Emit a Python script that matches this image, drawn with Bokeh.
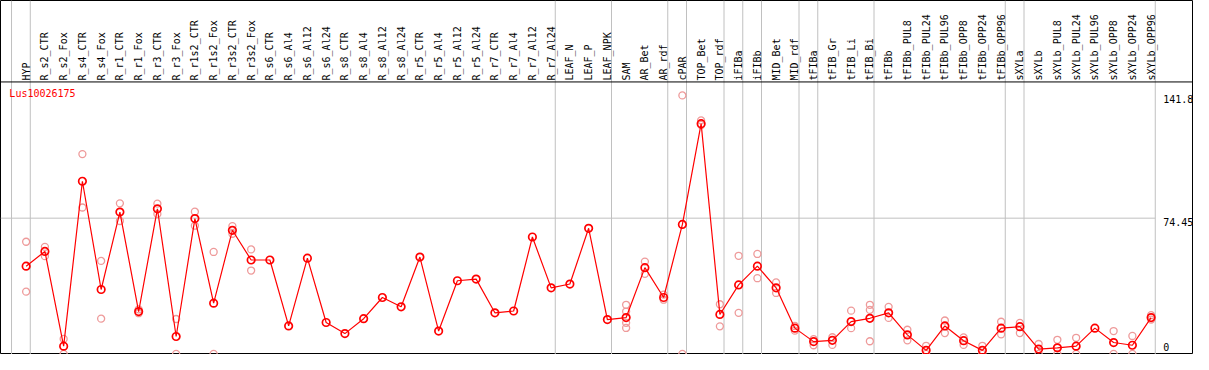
from math import pi
from bokeh.plotting import figure
from bokeh.models import Range1d, Span
from bokeh.core.properties import value
from bokeh.embed import file_html
from bokeh.resources import INLINE

# ---------------- data ----------------
title = "Lus10026175"

categories = [
    "HYP", "R_s2_CTR", "R_s2_Fox", "R_s4_CTR", "R_s4_Fox", "R_r1_CTR", "R_r1_Fox",
    "R_r3_CTR", "R_r3_Fox", "R_r1s2_CTR", "R_r1s2_Fox", "R_r3s2_CTR", "R_r3s2_Fox",
    "R_s6_CTR", "R_s6_Al4", "R_s6_Al12", "R_s6_Al24", "R_s8_CTR", "R_s8_Al4",
    "R_s8_Al12", "R_s8_Al24", "R_r5_CTR", "R_r5_Al4", "R_r5_Al12", "R_r5_Al24",
    "R_r7_CTR", "R_r7_Al4", "R_r7_Al12", "R_r7_Al24", "LEAF_N", "LEAF_P", "LEAF_NPK",
    "SAM", "AR_Bet", "AR_rdf", "cPAR", "TOP_Bet", "TOP_rdf", "iFIBa", "iFIBb",
    "MID_Bet", "MID_rdf", "tFIBa", "tFIB_Gr", "tFIB_Li", "tFIB_Bi", "tFIBb",
    "tFIBb_PUL8", "tFIBb_PUL24", "tFIBb_PUL96", "tFIBb_OPP8", "tFIBb_OPP24",
    "tFIBb_OPP96", "sXYLa", "sXYLb", "sXYLb_PUL8", "sXYLb_PUL24", "sXYLb_PUL96",
    "sXYLb_OPP8", "sXYLb_OPP24", "sXYLb_OPP96",
]

means = [
    48.1, 56.2, 4.2, 94.7, 35.3, 77.8, 23.2, 79.6, 9.5, 74.2, 27.8, 67.8, 51.5,
    51.5, 15.3, 52.5, 17.2, 11.1, 19.3, 30.9, 25.8, 53.1, 12.5, 40.1, 41.0,
    22.5, 23.5, 64.1, 36.2, 38.3, 68.9, 18.8,
    19.9, 47.3, 30.9, 71.0, 126.3, 21.6, 37.8, 48.1, 36.2, 14.1,
    6.7, 7.4, 17.7, 19.5, 22.5, 10.4, 1.9, 15.3, 7.2, 1.9, 14.1,
    14.9, 2.6, 3.3, 4.2, 14.1, 6.2, 4.7, 19.9,
]

rep_cats = [
    "HYP", "HYP", "R_s2_CTR", "R_s2_CTR", "R_s2_Fox", "R_s2_Fox",
    "R_s4_CTR", "R_s4_CTR", "R_s4_Fox", "R_s4_Fox", "R_r1_CTR", "R_r1_CTR",
    "R_r1_Fox", "R_r1_Fox", "R_r3_CTR", "R_r3_CTR", "R_r3_Fox", "R_r3_Fox",
    "R_r1s2_CTR", "R_r1s2_CTR", "R_r1s2_Fox", "R_r1s2_Fox",
    "R_r3s2_CTR", "R_r3s2_CTR", "R_r3s2_Fox", "R_r3s2_Fox",
    "SAM", "SAM", "SAM", "SAM", "AR_Bet", "AR_Bet", "AR_rdf", "AR_rdf",
    "cPAR", "cPAR", "TOP_Bet", "TOP_Bet", "TOP_rdf", "TOP_rdf",
    "iFIBa", "iFIBa", "iFIBb", "iFIBb", "MID_Bet", "MID_Bet", "MID_rdf", "MID_rdf",
    "tFIBa", "tFIBa", "tFIB_Gr", "tFIB_Gr", "tFIB_Li", "tFIB_Li",
    "tFIB_Bi", "tFIB_Bi", "tFIB_Bi", "tFIBb", "tFIBb",
    "tFIBb_PUL8", "tFIBb_PUL8", "tFIBb_PUL24", "tFIBb_PUL24",
    "tFIBb_PUL96", "tFIBb_PUL96", "tFIBb_OPP8", "tFIBb_OPP8",
    "tFIBb_OPP24", "tFIBb_OPP24", "tFIBb_OPP96", "tFIBb_OPP96",
    "sXYLa", "sXYLa", "sXYLb", "sXYLb", "sXYLb_PUL8", "sXYLb_PUL8",
    "sXYLb_PUL24", "sXYLb_PUL24", "sXYLb_OPP8", "sXYLb_OPP8",
    "sXYLb_OPP24", "sXYLb_OPP24", "sXYLb_OPP96", "sXYLb_OPP96",
]
rep_vals = [
    61.5, 34.1, 58.7, 53.6, 8.2, 0.0,
    109.6, 80.3, 51.0, 19.3, 82.6, 72.9,
    24.4, 22.3, 82.4, 76.8, 19.1, 0.0,
    78.0, 70.3, 55.9, 0.0,
    70.1, 65.9, 57.3, 45.7,
    26.9, 23.2, 17.0, 14.2, 50.6, 43.9, 32.5, 29.7,
    141.8, 0.0, 128.1, 125.6, 27.2, 15.1,
    53.8, 22.5, 54.8, 41.5, 39.2, 33.4, 15.3, 12.7,
    8.1, 4.7, 9.1, 4.9, 23.7, 14.1,
    26.9, 24.1, 6.9, 25.8, 19.7,
    13.2, 7.4, 4.4, 0.0,
    18.3, 11.4, 9.0, 4.9,
    4.4, 0.0, 17.6, 10.7,
    17.0, 11.4, 5.4, 0.0, 7.7, 0.0,
    8.8, 0.0, 12.5, 0.0,
    9.8, 0.0, 21.2, 18.8,
]

# last category index of each group (-1 = start)
group_ends = [-1, 0, 28, 31, 34, 35, 37, 38, 39, 41, 42, 45, 52, 53, 60]

y_ticks = [0, 74.45, 141.8]
y_tick_labels = ["0", "74.45", "141.8"]

# ---------------- layout ----------------
W, H = 1193, 354
x_range = Range1d(-1.368, 62.26)
y_range = Range1d(-0.37, 193.9)
header_y = 149.2      # header / plot separator
label_y = 150.0       # bottom of rotated labels
title_y = 146.1
sep_off = 0.22

FONT = value("DejaVu Sans Mono")
FS = value("10px")

p = figure(width=W, height=H, x_range=x_range, y_range=y_range,
           output_backend="svg", toolbar_location=None,
           x_axis_location=None, y_axis_location=None,
           min_border=0, min_border_left=0, min_border_right=0,
           min_border_top=0, min_border_bottom=0)
p.grid.visible = False
p.outline_line_color = "black"
p.outline_line_width = 1
p.background_fill_color = "white"
p.border_fill_color = "white"

xs = list(range(len(categories)))
idx = {c: i for i, c in enumerate(categories)}

# vertical group separators
seps = [g + sep_off for g in group_ends]
for s in seps:
    p.add_layout(Span(location=s, dimension="height", line_color="#C0C0C0",
                      line_width=1, level="underlay"))

# horizontal reference line at middle tick
p.segment(x0=[x_range.start], y0=[y_ticks[1]], x1=[seps[-1]], y1=[y_ticks[1]],
          line_color="#C0C0C0", line_width=1, level="underlay")

# header separator
p.add_layout(Span(location=header_y, dimension="width", line_color="black",
                  line_width=1))

# header labels
p.text(x=xs, y=[label_y] * len(xs), text=categories, angle=pi / 2,
       text_align="left", text_baseline="middle", text_font=FONT,
       text_font_size=FS, text_color="black")

# title
p.text(x=[-0.895], y=[title_y], text=[title], text_align="left",
       text_baseline="top", text_font=FONT, text_font_size=FS, text_color="red")

# right tick labels
for t, lab in zip(y_ticks, y_tick_labels):
    is_min = t == min(y_ticks)
    p.text(x=[seps[-1] + 0.42], y=[t], text=[lab], text_align="left",
           text_baseline="bottom" if is_min else "top",
           y_offset=-3 if is_min else 0,
           text_font=FONT, text_font_size=FS, text_color="black")

# replicates
p.scatter(x=[idx[c] for c in rep_cats], y=rep_vals, marker="circle", size=7,
          fill_color=None, line_color="#EE9A9A", line_width=1.3)

# mean line + markers
p.line(x=xs, y=means, line_color="#FF0000", line_width=1.2)
p.scatter(x=xs, y=means, marker="circle", size=7.5, fill_color=None,
          line_color="#FF0000", line_width=1.7)

open("out.html", "w").write(file_html(p, INLINE))
